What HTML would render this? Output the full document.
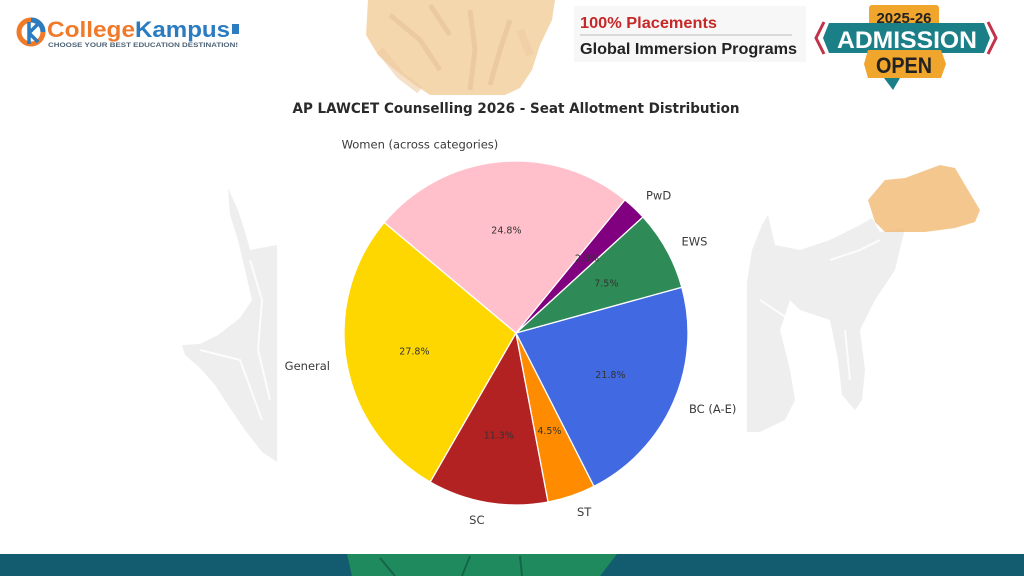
<!DOCTYPE html>
<html><head><meta charset="utf-8"><style>
html,body{margin:0;padding:0;background:#fff;}
body{width:1024px;height:576px;overflow:hidden;position:relative;}
svg{display:block;}
</style></head><body>
<svg width="1024" height="576" viewBox="0 0 1024 576" xmlns="http://www.w3.org/2000/svg">
<rect width="1024" height="576" fill="#ffffff"/>
<!-- background decorations -->
<g opacity="0.6">
<path d="M368,0 L555,0 L552,20 L540,45 L532,70 L520,88 L505,95 L430,95 L415,85 L395,70 L378,55 L366,35 Z" fill="#F0BE7A"/>
<path d="M390,15 L420,40 L440,70 M470,10 L475,50 L470,90 M510,20 L500,50 L490,85 M430,5 L450,35" stroke="#D49A55" stroke-width="5" fill="none" opacity="0.6"/>
<path d="M380,50 L400,75 L420,90 M520,30 L530,55" stroke="#E3A968" stroke-width="8" fill="none" opacity="0.6"/>
</g>
<g fill="#eeeeee">
<path d="M228,188 L238,210 L246,235 L250,250 L277,245 L277,462 L262,452 L245,430 L228,405 L215,385 L200,368 L185,355 L182,345 L200,344 L218,335 L240,318 L252,300 L245,270 L238,240 L230,215 Z"/>
<path d="M747,282 L752,250 L762,225 L768,215 L775,245 L800,250 L830,240 L860,225 L872,218 L880,232 L905,228 L895,270 L875,300 L860,330 L865,370 L862,400 L855,410 L842,395 L838,360 L830,320 L800,310 L790,300 L780,330 L790,370 L795,400 L785,420 L760,432 L747,432 Z"/>
</g>
<g stroke="#ffffff" stroke-width="2" fill="none" opacity="0.8">
<path d="M250,260 L262,300 L258,350 L270,400 M200,350 L240,360 L262,420"/>
<path d="M760,300 L790,320 L800,360 M830,260 L860,250 L880,240 M845,330 L850,380"/>
</g>
<path d="M868,200 L885,180 L905,178 L940,165 L955,168 L968,190 L980,210 L975,222 L955,228 L925,232 L885,232 L875,222 Z" fill="#F0B46A" opacity="0.75"/>
<!-- chart white area -->
<rect x="277" y="95" width="470" height="459" fill="#ffffff"/>
<!-- bottom bar -->
<rect x="0" y="554" width="1024" height="22" fill="#135C70"/>
<path d="M347,554 L617,554 L600,576 L352,576 Z" fill="#1E8A5E"/>
<path d="M380,558 L395,576 M470,556 L462,576 M520,556 L522,576" stroke="#14664a" stroke-width="2" fill="none"/>

<!-- header logo -->
<g>
<circle cx="31" cy="32" r="12" fill="none" stroke="#EF7A2A" stroke-width="5"/>
<path d="M31,20 A12,12 0 0 1 43,32" stroke="#2A7BC0" stroke-width="5" fill="none"/>
<path d="M29,22 L29,44 M29,33 L38,24 M29,33 L38,42" stroke="#2A7BC0" stroke-width="3.5" fill="none"/>
<text x="47" y="37" font-family="Liberation Sans, sans-serif" font-weight="bold" font-size="22" fill="#EF7A2A" textLength="88" lengthAdjust="spacingAndGlyphs">College</text>
<text x="135" y="37" font-family="Liberation Sans, sans-serif" font-weight="bold" font-size="22" fill="#2A7BC0" textLength="95" lengthAdjust="spacingAndGlyphs">Kampus</text>
<rect x="232" y="24" width="7" height="10" fill="#2A7BC0"/>
<text x="48" y="47" font-family="Liberation Sans, sans-serif" font-weight="bold" font-size="6.5" fill="#4d6275" textLength="190" lengthAdjust="spacingAndGlyphs">CHOOSE YOUR BEST EDUCATION DESTINATION!</text>
</g>
<!-- header right -->
<rect x="574" y="6" width="232" height="56" fill="#f7f7f7"/>
<text x="580" y="28" font-family="Liberation Sans, sans-serif" font-weight="bold" font-size="16" fill="#C62828" textLength="137" lengthAdjust="spacingAndGlyphs">100% Placements</text>
<line x1="580" y1="35" x2="792" y2="35" stroke="#bbbbbb" stroke-width="1"/>
<text x="580" y="54" font-family="Liberation Sans, sans-serif" font-weight="bold" font-size="16" fill="#222" textLength="217" lengthAdjust="spacingAndGlyphs">Global Immersion Programs</text>
<!-- admission badge -->
<g>
<rect x="869" y="5" width="70" height="24" rx="3" fill="#F0A52C"/>
<text x="904" y="23" text-anchor="middle" font-family="Liberation Sans, sans-serif" font-weight="bold" font-size="15" fill="#222">2025-26</text>
<path d="M829,23 L984,23 L990,38 L984,53 L829,53 L823,38 Z" fill="#1A7F86"/>
<path d="M824,22 L816,38 L824,54" stroke="#C0334A" stroke-width="3" fill="none"/>
<path d="M988,22 L996,38 L988,54" stroke="#C0334A" stroke-width="3" fill="none"/>
<text x="907" y="48" text-anchor="middle" font-family="Liberation Sans, sans-serif" font-weight="bold" font-size="24" fill="#ffffff" textLength="140" lengthAdjust="spacingAndGlyphs">ADMISSION</text>
<path d="M868,50 L941,50 L946,64 L941,78 L868,78 L864,64 Z" fill="#F0A52C"/>
<text x="904" y="73" text-anchor="middle" font-family="Liberation Sans, sans-serif" font-weight="bold" font-size="22" fill="#222" textLength="56" lengthAdjust="spacingAndGlyphs">OPEN</text>
<path d="M884,78 L900,78 L893,90 Z" fill="#1A7F86"/>
</g>

<!-- title -->
<text x="516" y="113" text-anchor="middle" font-family="DejaVu Sans, Liberation Sans, sans-serif" font-weight="bold" font-size="14" fill="#2a2a2a" textLength="447" lengthAdjust="spacingAndGlyphs">AP LAWCET Counselling 2026 - Seat Allotment Distribution</text>

<!-- pie -->
<g stroke="#ffffff" stroke-width="1.3" stroke-linejoin="round">
<path d="M516,333 L384.24,222.44 A172,172 0 0 0 430.21,482.08 Z" fill="#FFD700"/>
<path d="M516,333 L430.21,482.08 A172,172 0 0 0 548.11,501.98 Z" fill="#B22222"/>
<path d="M516,333 L548.11,501.98 A172,172 0 0 0 593.98,486.31 Z" fill="#FF8C00"/>
<path d="M516,333 L593.98,486.31 A172,172 0 0 0 681.79,287.21 Z" fill="#4169E1"/>
<path d="M516,333 L681.79,287.21 A172,172 0 0 0 642.94,216.93 Z" fill="#2E8B57"/>
<path d="M516,333 L642.94,216.93 A172,172 0 0 0 624.90,199.85 Z" fill="#800080"/>
<path d="M516,333 L624.90,199.85 A172,172 0 0 0 384.24,222.44 Z" fill="#FFC0CB"/>
</g>

<!-- labels -->
<g font-family="DejaVu Sans, Liberation Sans, sans-serif" font-size="11.5" fill="#3a3a3a">
<text x="330" y="370" text-anchor="end">General</text>
<text x="484.5" y="524" text-anchor="end">SC</text>
<text x="577" y="516" text-anchor="start">ST</text>
<text x="689" y="413" text-anchor="start">BC (A-E)</text>
<text x="681.5" y="245.5" text-anchor="start">EWS</text>
<text x="646" y="199.5" text-anchor="start">PwD</text>
<text x="498.3" y="148.5" text-anchor="end">Women (across categories)</text>
</g>
<g font-family="DejaVu Sans, Liberation Sans, sans-serif" font-size="9.5" fill="#333" text-anchor="middle">
<text x="414.4" y="354.5">27.8%</text>
<text x="498.8" y="438.3">11.3%</text>
<text x="549.4" y="434">4.5%</text>
<text x="610.4" y="378">21.8%</text>
<text x="606.3" y="286.5">7.5%</text>
<text x="587" y="261.5">2.3%</text>
<text x="506.4" y="233.7">24.8%</text>
</g>
</svg>
</body></html>
